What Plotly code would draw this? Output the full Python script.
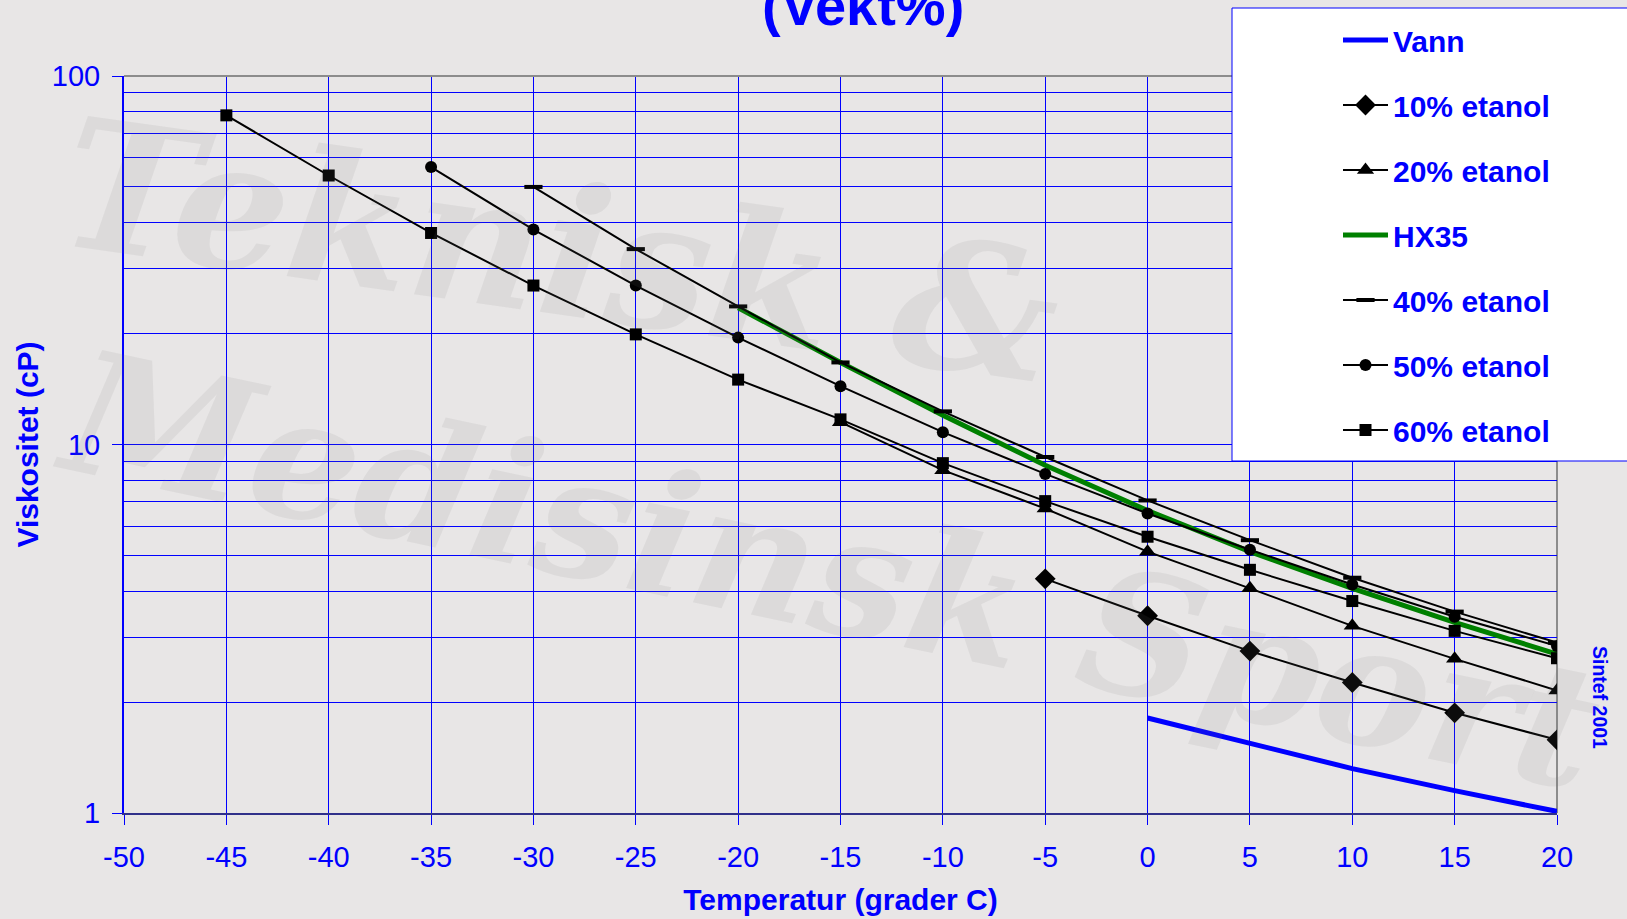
import plotly.graph_objects as go

# ---------------- data ----------------
vann_x = [0, 5, 10, 15, 20]
vann_y = [1.81, 1.54, 1.32, 1.15, 1.01]

e10_x = [-5, 0, 5, 10, 15, 20]
e10_y = [4.32, 3.43, 2.75, 2.26, 1.87, 1.58]

e20_x = [-15, -10, -5, 0, 5, 10, 15, 20]
e20_y = [11.5, 8.52, 6.70, 5.12, 4.07, 3.22, 2.62, 2.15]

hx35_x = [-20, -15, -10, -5, 0, 5, 10, 15, 20]
hx35_y = [23.5, 16.7, 12.0, 8.78, 6.62, 5.12, 4.07, 3.29, 2.70]

e40_x = [-30, -25, -20, -15, -10, -5, 0, 5, 10, 15, 20]
e40_y = [50.0, 33.9, 23.7, 16.7, 12.3, 9.25, 7.05, 5.50, 4.35, 3.52, 2.90]

e50_x = [-35, -30, -25, -20, -15, -10, -5, 0, 5, 10, 15, 20]
e50_y = [56.6, 38.3, 27.0, 19.5, 14.4, 10.8, 8.32, 6.50, 5.18, 4.17, 3.41, 2.84]

e60_x = [-45, -40, -35, -30, -25, -20, -15, -10, -5, 0, 5, 10, 15, 20]
e60_y = [78.2, 53.7, 37.5, 27.0, 19.9, 15.0, 11.7, 8.90, 7.02, 5.62, 4.57, 3.76, 3.12, 2.63]

x_ticks = list(range(-50, 25, 5))
y_ticks = [1, 10, 100]
y_minor = [2, 3, 4, 5, 6, 7, 8, 9, 20, 30, 40, 50, 60, 70, 80, 90]

title_text = "(Vekt%)"
x_title = "Temperatur (grader C)"
y_title = "Viskositet (cP)"
credit = "Sintef 2001"

# ---------------- figure ----------------
W, H = 1627, 919
ML, MR, MT, MB = 124, 70, 76, 106
PW, PH = W - ML - MR, H - MT - MB

def px(xp):
    return (xp - ML) / PW

def py(yp):
    return (H - MB - yp) / PH

BLUE = "#0000ff"
FONT = "Arial, Liberation Sans, sans-serif"

fig = go.Figure()

def add_series(name, xs, ys, color, width, symbol=None, msize=11):
    mode = "lines+markers" if symbol else "lines"
    kw = dict(x=xs, y=ys, name=name, mode=mode, legendgroup=name,
              line=dict(color=color, width=width))
    if symbol:
        if symbol == "line-ew":
            kw["marker"] = dict(symbol=symbol, size=msize, color="black",
                                line=dict(color="black", width=4))
        else:
            kw["marker"] = dict(symbol=symbol, size=msize, color="black",
                                line=dict(width=0))
    fig.add_trace(go.Scatter(**kw))

add_series("Vann", vann_x, vann_y, BLUE, 5)
add_series("10% etanol", e10_x, e10_y, "black", 2, "diamond", 16)
add_series("20% etanol", e20_x, e20_y, "black", 2, "triangle-up", 15)
add_series("HX35", hx35_x, hx35_y, "#008000", 5)
add_series("40% etanol", e40_x, e40_y, "black", 2, "line-ew", 13)
add_series("50% etanol", e50_x, e50_y, "black", 2, "circle", 12)
add_series("60% etanol", e60_x, e60_y, "black", 2, "square", 12)

shapes = [
    # gray top and right frame lines of the plot area
    dict(type="line", xref="paper", yref="paper", x0=0, x1=1, y0=1, y1=1,
         line=dict(color="#8c8c8c", width=2), layer="above"),
    dict(type="line", xref="paper", yref="paper", x0=1, x1=1, y0=0, y1=1,
         line=dict(color="#8c8c8c", width=2), layer="below"),
    # legend box (white, blue border, running off the right edge)
    dict(type="rect", xref="paper", yref="paper",
         x0=px(1232), x1=px(1700), y0=py(461), y1=py(8),
         fillcolor="white", line=dict(color=BLUE, width=1), layer="above"),
]

WM = "rgba(120,115,115,0.10)"
annotations = [
    dict(text="<b>%s</b>" % title_text, xref="paper", yref="paper",
         x=px(863), y=py(6), xanchor="center", yanchor="middle",
         showarrow=False, font=dict(family=FONT, size=56, color=BLUE)),
    dict(text="<b>%s</b>" % credit, xref="paper", yref="paper",
         x=px(1600), y=py(698), xanchor="center", yanchor="middle",
         textangle=90, showarrow=False,
         font=dict(family=FONT, size=19.5, color=BLUE)),
    # faint watermark of the background picture
    dict(text="<b><i>Teknisk &amp;</i></b>", xref="paper", yref="paper",
         x=px(560), y=py(250), xanchor="center", yanchor="middle",
         textangle=8, showarrow=False,
         font=dict(family="DejaVu Serif, serif", size=180, color=WM)),
    dict(text="<b><i>Medisinsk Sport</i></b>", xref="paper", yref="paper",
         x=px(830), y=py(570), xanchor="center", yanchor="middle",
         textangle=12, showarrow=False,
         font=dict(family="DejaVu Serif, serif", size=170, color=WM)),
]

fig.update_layout(
    width=W, height=H,
    margin=dict(l=ML, r=MR, t=MT, b=MB, autoexpand=False),
    paper_bgcolor="#e8e6e6",
    plot_bgcolor="rgba(0,0,0,0)",
    font=dict(family=FONT, color=BLUE),
    showlegend=True,
    legend=dict(x=px(1338), y=py(14), xanchor="left", yanchor="top",
                bgcolor="rgba(0,0,0,0)", borderwidth=0,
                font=dict(family=FONT, size=30, color=BLUE, weight="bold"),
                itemwidth=45, tracegroupgap=23, traceorder="grouped"),
    shapes=shapes,
    annotations=annotations,
    xaxis=dict(
        range=[-50, 20], tickvals=x_ticks, ticktext=[str(v) for v in x_ticks],
        showgrid=True, gridcolor=BLUE, gridwidth=1,
        zeroline=False, showline=True, linecolor="#30308a", linewidth=2,
        ticks="outside", ticklen=10, tickcolor=BLUE, tickwidth=1,
        tickfont=dict(family=FONT, size=29, color=BLUE),
        ticklabelstandoff=7,
        title=dict(text="<b>%s</b>" % x_title, standoff=17,
                   font=dict(family=FONT, size=30, color=BLUE)),
        automargin=False,
    ),
    yaxis=dict(
        type="log", range=[0, 2], tickvals=y_ticks, ticktext=[str(v) for v in y_ticks],
        showgrid=True, gridcolor=BLUE, gridwidth=1,
        minor=dict(tickvals=y_minor, showgrid=True, gridcolor=BLUE, gridwidth=1, ticks=""),
        zeroline=False, showline=True, linecolor=BLUE, linewidth=2,
        ticks="outside", ticklen=10, tickcolor=BLUE, tickwidth=1,
        tickfont=dict(family=FONT, size=29, color=BLUE),
        ticklabelstandoff=6,
        title=dict(text="<b>%s</b>" % y_title, standoff=4,
                   font=dict(family=FONT, size=30, color=BLUE)),
        automargin=False,
    ),
)

fig.write_html("out.html", config={"displayModeBar": False},
               post_script="document.body.style.margin='0';document.body.style.overflow='hidden';")
